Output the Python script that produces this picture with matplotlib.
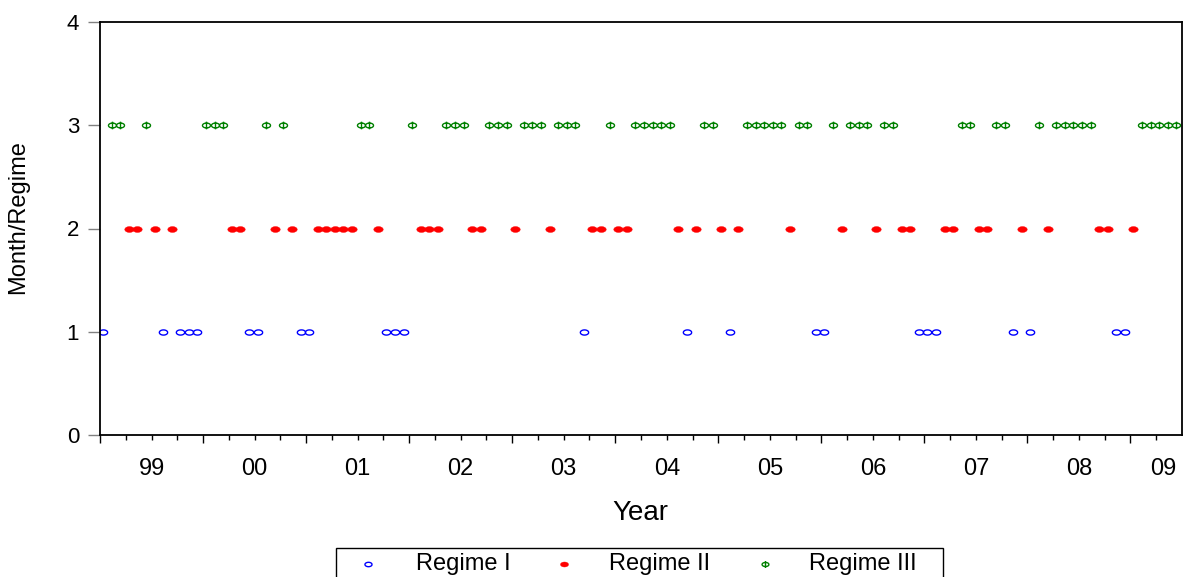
import numpy as np
import matplotlib
matplotlib.use("Agg")
import matplotlib.pyplot as plt
from matplotlib.path import Path
from matplotlib.lines import Line2D
from matplotlib.patches import Rectangle
from matplotlib import font_manager
import matplotlib.transforms as mtransforms

# regime of each month, 1999M01 - 2009M06
regime = [
    1, 3, 3, 2, 2, 3, 2, 1, 2, 1, 1, 1,   # 1999
    3, 3, 3, 2, 2, 1, 1, 3, 2, 3, 2, 1,   # 2000
    1, 2, 2, 2, 2, 2, 3, 3, 2, 1, 1, 1,   # 2001
    3, 2, 2, 2, 3, 3, 3, 2, 2, 3, 3, 3,   # 2002
    2, 3, 3, 3, 2, 3, 3, 3, 1, 2, 2, 3,   # 2003
    2, 2, 3, 3, 3, 3, 3, 2, 1, 2, 3, 3,   # 2004
    2, 1, 2, 3, 3, 3, 3, 3, 2, 3, 3, 1,   # 2005
    1, 3, 2, 3, 3, 3, 2, 3, 3, 2, 2, 1,   # 2006
    1, 1, 2, 2, 3, 3, 2, 2, 3, 3, 1, 2,   # 2007
    1, 3, 2, 3, 3, 3, 3, 3, 2, 2, 1, 1,   # 2008
    2, 3, 3, 3, 3, 3,                     # 2009
]
start_year = 1999
years = list(range(1999, 2010))
year_labels = ["99", "00", "01", "02", "03", "04", "05", "06", "07", "08", "09"]
y_ticks = [0, 1, 2, 3, 4]
regime_names = ["Regime I", "Regime II", "Regime III"]

W, H = 1189, 577

names = {f.name for f in font_manager.fontManager.ttflist}
base_font = "Liberation Sans" if "Liberation Sans" in names else "DejaVu Sans"
plt.rcParams["font.family"] = [base_font, "DejaVu Sans"]


def ellipse_marker(ratio=0.6, stem=None):
    t = np.linspace(0, 2 * np.pi, 41)
    verts = list(zip(np.cos(t), ratio * np.sin(t)))
    codes = [Path.MOVETO] + [Path.LINETO] * (len(verts) - 1)
    if stem is not None:
        verts += [(0, -stem), (0, stem)]
        codes += [Path.MOVETO, Path.LINETO]
    return Path(verts, codes)


m_open = ellipse_marker(0.62)
m_dot = ellipse_marker(0.62)
m_phi = ellipse_marker(0.6, stem=0.95)

styles = [
    dict(marker=m_open, markersize=6.0, markerfacecolor="none",
         markeredgecolor="#0000ff", markeredgewidth=1.0),
    dict(marker=m_dot, markersize=6.8, markerfacecolor="#ff0000",
         markeredgecolor="#ff0000", markeredgewidth=0.3),
    dict(marker=m_phi, markersize=5.8, markerfacecolor="none",
         markeredgecolor="#008000", markeredgewidth=1.0),
]

reg = np.array(regime)
x = start_year + (np.arange(len(reg)) + 0.35) / 12.0

fig = plt.figure(figsize=(W / 100, H / 100), dpi=100)
ax = fig.add_axes([100 / W, 1 - 435 / H, 1082 / W, 413 / H])

for k in (1, 2, 3):
    sel = reg == k
    ax.plot(x[sel], reg[sel], linestyle="none", **styles[k - 1])

ax.set_xlim(1999, 2009.5)
ax.set_ylim(0, 4)

ax.set_xticks(years)
ax.set_xticklabels([])
ax.set_xticks(np.arange(1999, 2009.5, 0.25), minor=True)
ax.tick_params(axis="x", which="major", direction="out", length=6, width=1, color="black")
ax.tick_params(axis="x", which="minor", direction="out", length=3.5, width=1, color="black")

ax.set_yticks(y_ticks)
ax.set_yticklabels([str(v) for v in y_ticks], fontsize=16)
ax.tick_params(axis="y", direction="out", length=9, width=1, color="#808080", pad=6)

for s in ax.spines.values():
    s.set_linewidth(1.3)
    s.set_color("black")

trans = mtransforms.blended_transform_factory(ax.transData, ax.transAxes)
for yr, lab in zip(years, year_labels):
    xp = yr + 0.5 if yr < 2009 else 2009.32
    ax.text(xp, -34 / 413, lab, transform=trans, ha="center", va="center",
            fontsize=17)

fig.text(18 / W, 1 - 217 / H, "Month/Regime", rotation=90, ha="center", va="center",
         fontsize=17)
fig.text(640 / W, 1 - 513 / H, "Year", ha="center", va="center", fontsize=20)

# legend box at the bottom
fig.add_artist(Rectangle((336 / W, -4 / H), 607 / W, (577 - 548 + 4) / H,
                         transform=fig.transFigure, fill=False,
                         edgecolor="black", linewidth=1))
mark_x = [368, 564, 765]
text_x = [463, 660, 863]
for i, name in enumerate(regime_names):
    st = dict(styles[i])
    st["markersize"] = st["markersize"] * 0.85
    fig.add_artist(Line2D([mark_x[i] / W], [1 - 564 / H], linestyle="none",
                          transform=fig.transFigure, **st))
    fig.text(text_x[i] / W, 1 - 564 / H, name, ha="center", va="center", fontsize=17)

fig.savefig("out.png", dpi=100)
